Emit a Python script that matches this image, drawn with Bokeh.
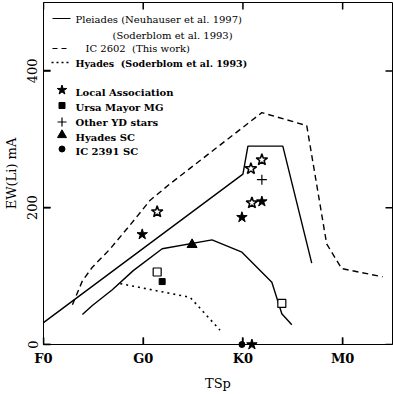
from bokeh.plotting import figure
from bokeh.models import Range1d, FixedTicker, Label
from bokeh.embed import file_html
from bokeh.resources import INLINE

# ---------------- data ----------------
# spectral type axis in subclasses: F0=0, G0=10, K0=20, M0=30
tick_pos = [0, 10, 20, 30]
tick_labels = ["F0", "G0", "K0", "M0"]
y_ticks = [0, 200, 400]

pleiades_up_x = [0, 20, 20.5, 24, 26.9]
pleiades_up_y = [32, 249, 290, 290, 119]
pleiades_lo_x = [3.9, 4.9, 6.9, 9.0, 11.9, 16.9, 19.9, 22.9, 23.9, 24.9]
pleiades_lo_y = [44, 57, 80, 108, 140, 153, 135, 91, 45, 29]
ic2602_x = [2.9, 3.9, 4.9, 6.7, 8.7, 10.7, 12.7, 21.9, 26.4, 28.4, 29.9, 34.0]
ic2602_y = [58, 93, 113, 140, 175, 211, 235, 339, 320, 147, 111, 99]
hyades_x = [7.7, 14.7, 17.7]
hyades_y = [89, 69, 21]

la_filled_x = [9.9, 19.9, 21.9, 20.9]
la_filled_y = [161, 186, 209, 0]
la_open_x = [11.4, 20.8, 21.9, 20.9]
la_open_y = [194, 257, 270, 207]
uma_filled_x = [11.9]
uma_filled_y = [92]
uma_open_x = [11.4, 23.9]
uma_open_y = [106, 60]
yd_x = [21.9]
yd_y = [241]
hyades_sc_x = [14.9]
hyades_sc_y = [146]
ic2391_x = [19.9]
ic2391_y = [0]

line_names = ["Pleiades (Neuhauser et al. 1997)", "(Soderblom et al. 1993)",
              "IC 2602 \u00a0(This work)", "Hyades \u00a0(Soderblom et al. 1993)"]
marker_names = ["Local Association", "Ursa Mayor MG", "Other YD stars",
                "Hyades SC", "IC 2391 SC"]

# ---------------- figure ----------------
FW, FH = 349, 342
X0, X1, Y0, Y1 = 0, 35, 0, 500
FONT = "DejaVu Serif"
TICK = 7  # px

p = figure(frame_width=FW, frame_height=FH,
           min_border_left=43, min_border_right=1, min_border_top=2, min_border_bottom=50,
           x_range=Range1d(X0, X1), y_range=Range1d(Y0, Y1),
           output_backend="svg", toolbar_location=None)
p.xgrid.visible = False
p.ygrid.visible = False
p.outline_line_color = "black"
p.outline_line_width = 1
p.background_fill_color = "white"
p.border_fill_color = "white"

def style_axis(ax):
    ax.major_tick_in = TICK
    ax.major_tick_out = 0
    ax.minor_tick_line_color = None
    ax.axis_line_color = "black"
    ax.major_tick_line_color = "black"
    ax.major_tick_line_width = 1.3

xa = p.xaxis[0]
xa.ticker = FixedTicker(ticks=tick_pos)
xa.major_label_overrides = {t: l for t, l in zip(tick_pos, tick_labels)}
style_axis(xa)
xa.major_label_text_font = FONT
xa.major_label_text_font_size = "13px"
xa.major_label_text_font_style = "bold"
xa.major_label_text_color = "black"
xa.major_label_standoff = 6
xa.axis_label = "TSp"
xa.axis_label_text_font = FONT
xa.axis_label_text_font_size = "13px"
xa.axis_label_text_font_style = "normal"
xa.axis_label_text_color = "black"
xa.axis_label_standoff = 7

ya = p.yaxis[0]
ya.ticker = FixedTicker(ticks=y_ticks)
style_axis(ya)
ya.major_label_text_font = FONT
ya.major_label_text_font_size = "13px"
ya.major_label_text_color = "black"
ya.major_label_orientation = "vertical"
ya.major_label_standoff = 6
ya.axis_label = "EW(Li) mA"
ya.axis_label_text_font = FONT
ya.axis_label_text_font_size = "13px"
ya.axis_label_text_font_style = "normal"
ya.axis_label_text_color = "black"
ya.axis_label_standoff = 6

# inward ticks on all four frame edges (one short line per tick)
dx = TICK * (X1 - X0) / FW
dy = TICK * (Y1 - Y0) / FH
tick_xs, tick_ys = [], []
for t in tick_pos:
    tick_xs += [[t, t], [t, t]]
    tick_ys += [[Y0, Y0 + dy], [Y1, Y1 - dy]]
for t in y_ticks:
    tick_xs += [[X0, X0 + dx], [X1, X1 - dx]]
    tick_ys += [[t, t], [t, t]]
p.multi_line(xs=tick_xs, ys=tick_ys, line_color="black", line_width=1.5)

# ---------------- curves ----------------
p.line(pleiades_up_x, pleiades_up_y, line_color="black", line_width=1.4)
p.line(pleiades_lo_x, pleiades_lo_y, line_color="black", line_width=1.4)
p.line(ic2602_x, ic2602_y, line_color="black", line_width=1.4, line_dash="6 4")
p.line(hyades_x, hyades_y, line_color="black", line_width=1.6, line_dash="2 4")

# ---------------- points ----------------
p.scatter(la_filled_x, la_filled_y, marker="star", size=11, fill_color="black",
          line_color="black", level="overlay")
p.scatter(la_open_x, la_open_y, marker="star", size=12, fill_color="white",
          line_color="black", line_width=1.5, level="overlay")
p.scatter(uma_filled_x, uma_filled_y, marker="square", size=6, fill_color="black",
          line_color="black", level="overlay")
p.scatter(uma_open_x, uma_open_y, marker="square", size=8, fill_color="white",
          line_color="black", line_width=1.2, level="overlay")
p.scatter(yd_x, yd_y, marker="cross", size=10, line_color="black", line_width=1.2,
          level="overlay")
p.scatter(hyades_sc_x, hyades_sc_y, marker="triangle", size=10, fill_color="black",
          line_color="black", level="overlay")
p.scatter(ic2391_x, ic2391_y, marker="circle", size=6, fill_color="black",
          line_color="black", level="overlay")

# ---------------- legend (pixel space inside the frame, y down) ----------------
p.extra_x_ranges = {"px": Range1d(0, FW)}
p.extra_y_ranges = {"py": Range1d(FH, 0)}
kw = dict(x_range_name="px", y_range_name="py")

p.line([9, 27], [16, 16], line_color="black", line_width=1.2, **kw)
p.line([9, 23], [46, 46], line_color="black", line_width=1.2, line_dash="5 4", **kw)
p.line([8, 25], [60, 60], line_color="black", line_width=1.6, line_dash="2 3", **kw)

def txt(x, y, s, bold=False, size="10px"):
    p.add_layout(Label(x=x, y=y, text=s, text_font=FONT, text_font_size=size,
                       text_font_style="bold" if bold else "normal",
                       text_color="black", text_align="left", text_baseline="middle", **kw))

txt(32, 16.5, line_names[0])
txt(69, 32.5, line_names[1])
txt(42, 46, line_names[2])
txt(32, 60.5, line_names[3], bold=True, size="9.5px")

mx = 18.5
p.scatter([mx], [87.5], marker="star", size=10, fill_color="black", line_color="black", **kw)
p.scatter([mx], [103], marker="square", size=6, fill_color="black", line_color="black", **kw)
p.scatter([mx], [119.5], marker="cross", size=9, line_color="black", line_width=1.2, **kw)
p.scatter([mx], [132.5], marker="triangle", size=9, fill_color="black", line_color="black", **kw)
p.scatter([mx], [146.5], marker="circle", size=6, fill_color="black", line_color="black", **kw)

for yy, name in zip([89.7, 105.3, 120, 134.7, 148.7], marker_names):
    txt(32, yy, name, bold=True, size="10px")

open("out.html", "w").write(file_html(p, INLINE))
